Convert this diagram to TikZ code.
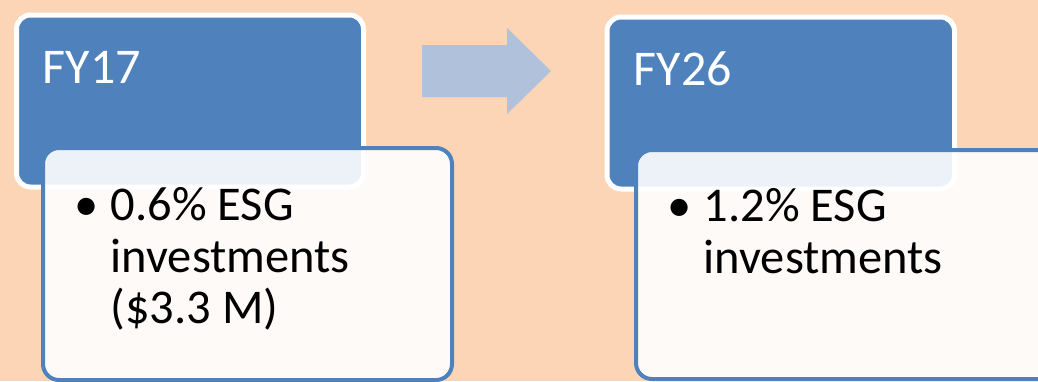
\documentclass[tikz,border=0pt]{standalone}
\usepackage{fontspec}
\setmainfont{Carlito}
\definecolor{bg}{HTML}{FBD5B5}
\definecolor{hdr}{HTML}{4F81BD}
\definecolor{arr}{HTML}{B0C1DC}
\tikzset{
  hdrbox/.style={draw=white, line width=5pt, fill=hdr, rounded corners=14pt, anchor=north west, inner sep=0pt},
  bodybox/.style={draw=hdr, line width=4pt, fill=white, fill opacity=0.9, draw opacity=1, rounded corners=16pt, anchor=north west, inner sep=0pt},
  hdrtext/.style={text=white, font=\fontsize{50}{56}\selectfont, anchor=base west, inner sep=0pt},
  bodytext/.style={text=black, font=\fontsize{48.5}{52}\selectfont, anchor=base west, inner sep=0pt},
  bullettext/.style={text=black, font=\fontsize{48.5}{52}\selectfont, anchor=base, inner sep=0pt},
  bigarrow/.style={fill=arr, draw=none}
}
\begin{document}
\begin{tikzpicture}[x=1pt,y=-1pt]
\fill[bg] (0,0) rectangle (1038,381);
\useasboundingbox (0,0) rectangle (1038,381);
\clip (0,0) rectangle (1038,381);
% left group
\node[hdrbox, minimum width=347pt, minimum height=172pt] (h1) at (14,12.5) {};
\node[bodybox, minimum width=409pt, minimum height=232pt] (b1) at (41,146) {};
\node[hdrtext] (t1) at (42.5,83) {FY17};
\node[bullettext] (u1) at (86.5,220) {•};
\node[bodytext] (l11) at (110.5,220) {0.6\% ESG};
\node[bodytext] (l12) at (110.5,272) {investments};
\node[bodytext] (l13) at (110.5,323) {(\$3.3 M)};
% arrow
\fill[bigarrow] (422,45) -- (507,45) -- (507,28) -- (551,71) -- (507,114) -- (507,97) -- (422,97) -- cycle;
% right group
\node[hdrbox, minimum width=347.5pt, minimum height=172pt] (h2) at (604.5,14.5) {};
\node[bodybox, minimum width=420pt, minimum height=229pt] (b2) at (634,148) {};
\node[hdrtext] (t2) at (633.5,85) {FY26};
\node[bullettext] (u2) at (679.5,221) {•};
\node[bodytext] (l21) at (703.5,221) {1.2\% ESG};
\node[bodytext] (l22) at (703.5,273) {investments};
\end{tikzpicture}
\end{document}
